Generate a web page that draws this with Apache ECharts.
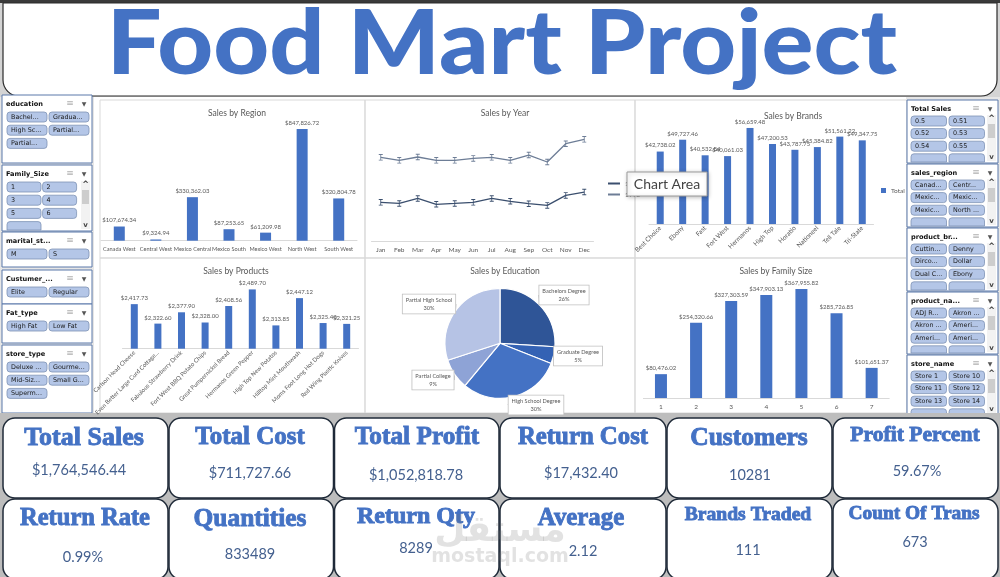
<!DOCTYPE html>
<html>
<head>
<meta charset="utf-8">
<script src="https://cdn.jsdelivr.net/npm/echarts@6/dist/echarts.min.js"></script>
<style>
  html, body { margin: 0; padding: 0; background: #bdbdbd; }
  #main { width: 1000px; height: 577px; }
</style>
</head>
<body>
<div id="main"></div>
<script>
// ---- data ----
const regions = ['Canada West', 'Central West', 'Mexico Central', 'Mexico South', 'Mexico West', 'North West', 'South West'];
const regionSales = [107674.34, 9324.94, 330362.03, 87253.65, 61209.98, 847826.72, 320804.78];

const months = ['Jan', 'Feb', 'Mar', 'Apr', 'May', 'Jun', 'Jul', 'Aug', 'Sep', 'Oct', 'Nov', 'Dec'];
const sales1997 = [45700, 44500, 50300, 43400, 44500, 45700, 50300, 46900, 44200, 42200, 53800, 57700];
const sales1998 = [98000, 94500, 98400, 94500, 94500, 96800, 98000, 94500, 100700, 92600, 113900, 118900];

const brands = ['Best Choice', 'Ebony', 'Fast', 'Fort West', 'Hermanos', 'High Top', 'Horatio', 'Nationeel', 'Tell Tale', 'Tri-State'];
const brandSales = [42738.02, 49727.46, 40532.84, 40061.03, 56659.48, 47200.53, 43787.75, 45384.82, 51561.22, 49347.75];

const products = ['Carlson Head Cheese', 'Even Better Large Curd Cottage...', 'Fabulous Strawberry Drink', 'Fort West BBQ Potato Chips',
  'Great Pumpernickel Bread', 'Hermanos Green Pepper', 'High Top New Potatos', 'Hilltop Mint Mouthwash',
  'Moms Foot Long Hot Dogs', 'Red Wing Plastic Knives'];
const productSales = [2417.73, 2322.60, 2377.90, 2328.00, 2408.56, 2489.70, 2313.85, 2447.12, 2325.40, 2321.25];

const educations = ['Bachelors Degree', 'Graduate Degree', 'High School Degree', 'Partial College', 'Partial High School'];
const educationShare = [26, 5, 30, 9, 30];

const familySizes = ['1', '2', '3', '4', '5', '6', '7'];
const familySales = [80476.02, 254320.66, 327303.59, 347903.13, 367955.82, 285726.85, 101651.37];

const kpiTitles = ['Total Sales', 'Total Cost', 'Total Profit', 'Return Cost', 'Customers', 'Profit Percent',
  'Return Rate', 'Quantities', 'Return Qty', 'Average', 'Brands Traded', 'Count Of Trans'];
const kpiValues = ['$1,764,546.44', '$711,727.66', '$1,052,818.78', '$17,432.40', '10281', '59.67%',
  '0.99%', '833489', '8289', '2.12', '111', '673'];

const leftSlicerNames = ['education', 'Family_Size', 'marital_st...', 'Custumer_...', 'Fat_type', 'store_type'];
const leftSlicerItems = [
  ['Bachel...', 'Gradua...', 'High Sc...', 'Partial...', 'Partial...'],
  ['1', '2', '3', '4', '5', '6', '7'],
  ['M', 'S'],
  ['Elite', 'Regular'],
  ['High Fat', 'Low Fat'],
  ['Deluxe ...', 'Gourme...', 'Mid-Siz...', 'Small G...', 'Superm...']
];
const rightSlicerNames = ['Total Sales', 'sales_region', 'product_br...', 'product_na...', 'store_name'];
const rightSlicerItems = [
  ['0.5', '0.51', '0.52', '0.53', '0.54', '0.55', '0.56', '0.57'],
  ['Canad...', 'Centr...', 'Mexic...', 'Mexic...', 'Mexic...', 'North ...', 'South ...', ''],
  ['Cuttin...', 'Denny', 'Dirco...', 'Dollar', 'Dual C...', 'Ebony', 'Fa...', 'Fa...'],
  ['ADJ R...', 'Akron ...', 'Akron ...', 'Ameri...', 'Ameri...', 'Ameri...', 'Ameri...', 'Ameri...'],
  ['Store 1', 'Store 10', 'Store 11', 'Store 12', 'Store 13', 'Store 14', 'Store 15', 'Store 16']
];

// ---- layout / style ----
const BLUE = '#4472c4';
const GREY_TXT = '#595959';
const money = v => '$' + v.toLocaleString('en-US', { minimumFractionDigits: 2, maximumFractionDigits: 2 });

const leftBoxes = [[95, 68, false], [165, 66, true], [232, 35, false], [270, 34, false], [304, 39, false], [345, 68, false]];
const rightBoxes = [[100, 63, true], [164, 63, true], [228, 63, true], [292, 62, true], [355, 60, true]];

const cardX = [3, 169, 334.5, 500, 667, 833];
const cardW = [165, 164.5, 164.5, 166, 165, 165];
const cardRowY = [418, 499];
const cardRowH = [80, 80];
const titleY = [438, 438, 437, 438, 438, 435, 519, 519, 517, 519, 515, 514];
const valueY = [470, 473, 475, 473, 475, 471, 557, 554, 548, 551, 550, 542];
const titleSize = [26, 25, 25.3, 24.8, 25.5, 21.6, 24.5, 25.4, 24, 24.8, 19.6, 19.4];
const titleCx = [84, 250, 417, 583, 749, 915, 85, 250, 416, 581, 748, 914];
const valueCx = [79, 250, 416, 581, 750, 917, 83, 250, 416, 583, 748, 915];

const pieLabelPos = [[564, 295], [578, 356], [536, 405], [433, 380], [429, 304]];

const graphics = [];

// title banner
graphics.push({ type: 'rect', shape: { x: 0, y: 0, width: 1000, height: 97 }, style: { fill: '#d4d4d4' } });
graphics.push({ type: 'rect', shape: { x: 0, y: 0, width: 1000, height: 3 }, style: { fill: '#3a3a3a' } });
graphics.push({ type: 'rect', shape: { x: 3, y: 3, width: 994, height: 93, r: [0, 0, 16, 16] }, style: { fill: '#fff', stroke: '#2b2b2b', lineWidth: 1.2 } });
graphics.push({ type: 'text', x: 502, y: 45, scaleY: 0.93, style: { text: 'Food Mart Project', fontSize: 97, fontWeight: 900, fontFamily: 'Lato', fill: BLUE, align: 'center', verticalAlign: 'middle' } });

// chart panel
graphics.push({ type: 'rect', shape: { x: 93, y: 97, width: 814, height: 316 }, style: { fill: '#fff' } });
[[100, 100, 265, 158], [365, 100, 270, 158], [635, 100, 272, 158], [100, 258, 265, 155], [365, 258, 270, 155], [635, 258, 272, 155]]
  .forEach(c => graphics.push({ type: 'rect', shape: { x: c[0], y: c[1], width: c[2], height: c[3] }, style: { fill: 'none', stroke: '#d9d9d9', lineWidth: 1 } }));

// slicer side columns
graphics.push({ type: 'rect', shape: { x: 0, y: 97, width: 94, height: 316 }, style: { fill: '#e6e6e6' } });
graphics.push({ type: 'rect', shape: { x: 906, y: 97, width: 94, height: 316 }, style: { fill: '#e6e6e6' } });

function slicer(x, w, box, name, items, rowOffset, rowStep, pad, bw, gap) {
  const top = box[0], h = box[1], scroll = box[2];
  graphics.push({ type: 'rect', shape: { x: x, y: top, width: w, height: h }, style: { fill: '#fff', stroke: '#5b79aa', lineWidth: 1 } });
  graphics.push({ type: 'text', x: x + 4, y: top + 9, style: { text: name, fontSize: 6.6, fontWeight: 'bold', fontFamily: 'DejaVu Sans', fill: '#111', align: 'left', verticalAlign: 'middle' } });
  graphics.push({ type: 'text', x: x + w - 22, y: top + 9, style: { text: '\u2261', fontSize: 9, fontFamily: 'DejaVu Sans', fill: '#b0b0b0', align: 'center', verticalAlign: 'middle' } });
  graphics.push({ type: 'text', x: x + w - 8, y: top + 9, style: { text: '\u25BC', fontSize: 6, fontFamily: 'DejaVu Sans', fill: '#555', align: 'center', verticalAlign: 'middle' } });
  const bh = 10;
  items.forEach((it, i) => {
    const row = Math.floor(i / 2), col = i % 2;
    const bx = x + pad + col * (bw + gap);
    const by = top + rowOffset + row * rowStep - bh / 2;
    const limit = top + h - 1;
    if (by >= limit - 1) return;
    const hh = Math.min(bh, limit - by);
    graphics.push({ type: 'rect', shape: { x: bx, y: by, width: bw, height: hh, r: hh < bh ? [3, 3, 0, 0] : 3 }, style: { fill: '#b4c6e7', stroke: '#7f93b5', lineWidth: 0.8 } });
    if (hh === bh && it) {
      graphics.push({ type: 'text', x: bx + 4, y: by + bh / 2, style: { text: it, fontSize: 6.4, fontFamily: 'DejaVu Sans', fill: '#1a1a1a', align: 'left', verticalAlign: 'middle' } });
    }
  });
  if (scroll) {
    const sx = x + w - 11, sy = top + rowOffset - 6;
    graphics.push({ type: 'rect', shape: { x: sx, y: sy, width: 9, height: top + h - 2 - sy }, style: { fill: '#f2f2f2' } });
    graphics.push({ type: 'rect', shape: { x: sx + 1, y: sy + 9, width: 7, height: 14 }, style: { fill: '#cdcdcd' } });
    graphics.push({ type: 'text', x: sx + 4.5, y: sy + 4, style: { text: '^', fontSize: 8, fontWeight: 'bold', fontFamily: 'DejaVu Sans', fill: '#444', align: 'center', verticalAlign: 'middle' } });
    graphics.push({ type: 'text', x: sx + 4.5, y: top + h - 6, style: { text: 'v', fontSize: 7, fontWeight: 'bold', fontFamily: 'DejaVu Sans', fill: '#444', align: 'center', verticalAlign: 'middle' } });
  }
}
leftSlicerNames.forEach((n, i) => {
  const sc = leftBoxes[i][2];
  slicer(2, 90, leftBoxes[i], n, leftSlicerItems[i], 22, 13.2, 5, sc ? 34 : 40, sc ? 1.6 : 2);
});
rightSlicerNames.forEach((n, i) => {
  slicer(907, 91, rightBoxes[i], n, rightSlicerItems[i], 21, 12.6, 4, 35.5, 2.5);
});

// KPI cards
graphics.push({ type: 'rect', shape: { x: 0, y: 413, width: 1000, height: 164 }, style: { fill: '#bdbdbd' } });
kpiTitles.forEach((t, i) => {
  const col = i % 6, row = Math.floor(i / 6);
  graphics.push({ type: 'rect', shape: { x: cardX[col], y: cardRowY[row], width: cardW[col], height: cardRowH[row], r: 12 }, style: { fill: '#fff', stroke: '#1f2a38', lineWidth: 1.5 } });
});
kpiTitles.forEach((t, i) => {
  graphics.push({ type: 'text', x: titleCx[i], y: titleY[i], style: { text: t, fontSize: titleSize[i], fontWeight: 'bold', fontFamily: 'Liberation Serif', fill: BLUE, stroke: BLUE, lineWidth: 0.9, align: 'center', verticalAlign: 'middle' } });
  graphics.push({ type: 'text', x: valueCx[i], y: valueY[i], style: { text: kpiValues[i], fontSize: 14.5, fontFamily: 'Lato', fill: '#44608f', align: 'center', verticalAlign: 'middle' } });
});

// watermark
graphics.push({ type: 'text', x: 500, y: 532, z: 50, style: { text: 'مستقل', fontSize: 36, fontWeight: 'bold', fontFamily: 'DejaVu Sans', fill: 'rgba(110,110,110,0.2)', align: 'center', verticalAlign: 'middle' } });
graphics.push({ type: 'text', x: 500, y: 557, z: 50, style: { text: 'mostaql.com', fontSize: 19, fontWeight: 'bold', fontFamily: 'DejaVu Sans', fill: 'rgba(110,110,110,0.2)', align: 'center', verticalAlign: 'middle' } });

// Excel "Chart Area" tooltip
graphics.push({ type: 'rect', z: 60, shape: { x: 627, y: 172, width: 80, height: 24 }, style: { fill: '#fff', stroke: '#9a9a9a', lineWidth: 1, shadowBlur: 4, shadowColor: 'rgba(0,0,0,0.25)', shadowOffsetX: 1, shadowOffsetY: 1 } });
graphics.push({ type: 'text', z: 61, x: 667, y: 184.5, style: { text: 'Chart Area', fontSize: 14, fontFamily: 'Lato', fill: '#444', align: 'center', verticalAlign: 'middle' } });

// ---- charts ----
const axisLabel = { fontSize: 6.5, color: GREY_TXT, fontFamily: 'Lato', interval: 0 };
const xBase = { type: 'category', axisTick: { show: false }, axisLine: { lineStyle: { color: '#d9d9d9' } } };
const barLabel = { show: true, position: 'top', fontSize: 6, color: GREY_TXT, fontFamily: 'Lato', distance: 3, formatter: p => money(p.value) };
const ttl = (text, x, y) => ({ text: text, left: x, top: y, textAlign: 'center', textStyle: { fontSize: 8.5, fontWeight: 'normal', color: GREY_TXT, fontFamily: 'Lato' } });
const ibeam = 'path://M0 0H6V1.2H3.6V6.8H6V8H0V6.8H2.4V1.2H0Z';

const option = {
  animation: false,
  backgroundColor: '#bdbdbd',
  textStyle: { fontFamily: 'Lato' },
  title: [
    ttl('Sales by Region', 232, 104),
    ttl('Sales by Year', 500, 104),
    ttl('Sales by Brands', 788, 107),
    ttl('Sales by Products', 231, 262),
    ttl('Sales by Education', 500, 262),
    ttl('Sales by Family Size', 771, 262)
  ],
  legend: [
    { data: ['1997', '1998'], orient: 'vertical', left: 603, top: 175, itemWidth: 12, itemHeight: 2, itemGap: 4, icon: 'rect', textStyle: { fontSize: 6.5, color: GREY_TXT } },
    { data: ['Total'], left: 876, top: 182, itemWidth: 5, itemHeight: 5, itemGap: 2, icon: 'rect', textStyle: { fontSize: 6.5, color: GREY_TXT } }
  ],
  grid: [
    { left: 101, top: 129, width: 256, height: 111.7, outerBoundsMode: 'none' },
    { left: 371.5, top: 112.6, width: 222, height: 129.1, outerBoundsMode: 'none' },
    { left: 649, top: 122.3, width: 224.5, height: 101.7, outerBoundsMode: 'none' },
    { left: 122.5, top: 287.3, width: 236, height: 61.4, outerBoundsMode: 'none' },
    { left: 643.4, top: 279.5, width: 245.8, height: 118.5, outerBoundsMode: 'none' }
  ],
  xAxis: [
    Object.assign({}, xBase, { gridIndex: 0, data: regions, axisLabel: Object.assign({}, axisLabel, { fontSize: 5.6, margin: 5 }) }),
    Object.assign({}, xBase, { gridIndex: 1, data: months, boundaryGap: true, axisLabel: Object.assign({}, axisLabel, { margin: 5 }) }),
    Object.assign({}, xBase, { gridIndex: 2, data: brands, axisLabel: Object.assign({}, axisLabel, { rotate: 45, margin: 3 }) }),
    Object.assign({}, xBase, { gridIndex: 3, data: products, axisLabel: Object.assign({}, axisLabel, { rotate: 45, fontSize: 6, margin: 3 }) }),
    Object.assign({}, xBase, { gridIndex: 4, data: familySizes, axisLabel: Object.assign({}, axisLabel, { margin: 5 }) })
  ],
  yAxis: [
    { gridIndex: 0, type: 'value', show: false, min: 0, max: 'dataMax' },
    { gridIndex: 1, type: 'value', show: false, min: 0, max: 150000 },
    { gridIndex: 2, type: 'value', show: false, min: 0, max: 60000 },
    { gridIndex: 3, type: 'value', show: false, min: 2200, max: 2500 },
    { gridIndex: 4, type: 'value', show: false, min: 0, max: 400000 }
  ],
  series: [
    { name: 'Region', type: 'bar', xAxisIndex: 0, yAxisIndex: 0, data: regionSales, barWidth: 11, itemStyle: { color: BLUE }, label: barLabel },
    { name: '1997', type: 'line', xAxisIndex: 1, yAxisIndex: 1, data: sales1997, color: '#3b4f6e', lineStyle: { width: 1.3 }, symbol: ibeam, symbolSize: [4, 6.5], itemStyle: { color: '#3b4f6e' } },
    { name: '1998', type: 'line', xAxisIndex: 1, yAxisIndex: 1, data: sales1998, color: '#8796ad', lineStyle: { width: 1.3 }, symbol: ibeam, symbolSize: [4, 6.5], itemStyle: { color: '#6d7d96' } },
    { name: 'Total', type: 'bar', xAxisIndex: 2, yAxisIndex: 2, data: brandSales, barWidth: 7, itemStyle: { color: BLUE }, label: barLabel },
    { name: 'Products', type: 'bar', xAxisIndex: 3, yAxisIndex: 3, data: productSales, barWidth: 7, itemStyle: { color: BLUE }, label: barLabel },
    { name: 'Family', type: 'bar', xAxisIndex: 4, yAxisIndex: 4, data: familySales, barWidth: 12, itemStyle: { color: BLUE }, label: barLabel },
    {
      name: 'Education', type: 'pie', center: [500, 343.3], radius: 55, startAngle: 90,
      data: educations.map((n, i) => ({ name: n, value: educationShare[i] })),
      color: ['#2f5597', '#3462b4', '#4472c4', '#8ea3d6', '#b6c3e5'],
      itemStyle: { borderColor: '#fff', borderWidth: 1.2 },
      label: {
        show: true, fontSize: 5.6, color: GREY_TXT, fontFamily: 'Lato', lineHeight: 7.5, align: 'center',
        backgroundColor: '#fff', borderColor: '#bfbfbf', borderWidth: 0.8, padding: [2, 3],
        formatter: p => p.name + '\n' + p.value + '%'
      },
      labelLine: { show: true, length: 4, length2: 3, lineStyle: { color: '#bfbfbf', width: 0.8 } },
      labelLayout: p => ({ x: pieLabelPos[p.dataIndex][0], y: pieLabelPos[p.dataIndex][1], align: 'center', verticalAlign: 'middle' })
    }
  ],
  graphic: { elements: graphics }
};

// graphics behind charts except overlays
option.graphic.elements.forEach(g => { if (g.z === undefined) g.z = -10; });

const chart = echarts.init(document.getElementById('main'), null, { renderer: 'canvas' });
chart.setOption(option);
</script>
</body>
</html>
